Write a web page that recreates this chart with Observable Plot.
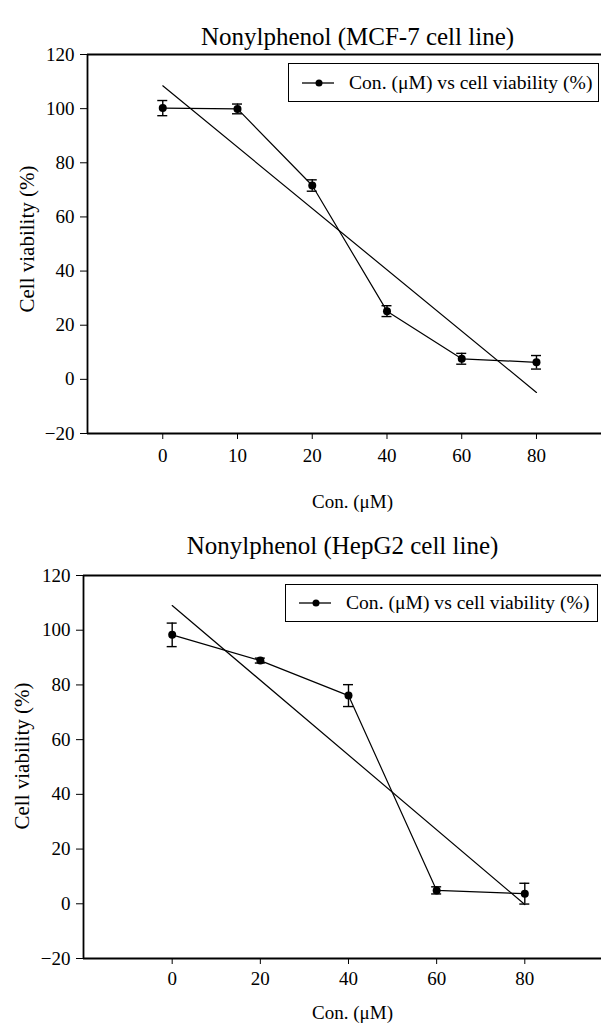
<!DOCTYPE html>
<html>
<head>
<meta charset="utf-8">
<script src="https://cdn.jsdelivr.net/npm/d3@7"></script>
<script src="https://cdn.jsdelivr.net/npm/@observablehq/plot@0.6"></script>
<style>
  html, body { margin: 0; padding: 0; background: #fff; }
  #wrap { position: relative; width: 601px; height: 1023px; overflow: hidden; font-family: "Liberation Serif", "Times New Roman", serif; }
  #wrap svg { display: block; overflow: visible; }
  .legend { position: absolute; box-sizing: border-box; border: 1.5px solid #000; background: #fff;
            display: flex; align-items: center; font-size: 19.6px; color: #000; white-space: nowrap; }
  .legend svg { display: block; margin-right: 15px; }
</style>
</head>
<body>
<div id="wrap"></div>
<script>
// ---- data ----
const mcfTitle = "Nonylphenol (MCF-7 cell line)";
const mcfConc = ["0", "10", "20", "40", "60", "80"];
const mcfViability = [100.2, 99.9, 71.6, 25.2, 7.6, 6.3];
const mcfError = [2.8, 1.8, 2.1, 2.0, 2.0, 2.5];

const hepTitle = "Nonylphenol (HepG2 cell line)";
const hepConc = ["0", "20", "40", "60", "80"];
const hepViability = [98.3, 88.9, 76.1, 4.9, 3.7];
const hepError = [4.3, 0.9, 4.0, 1.3, 3.8];

const yTicks = [-20, 0, 20, 40, 60, 80, 100, 120];
const xTitle = "Con. (\u03bcM)";
const yTitle = "Cell viability (%)";
const legendLabel = "Con. (\u03bcM) vs cell viability (%)";

const font = '"Liberation Serif", "Times New Roman", serif';

function panel(cfg) {
  const data = cfg.conc.map((c, i) => ({i, c, v: cfg.values[i], lo: cfg.values[i] - cfg.err[i], hi: cfg.values[i] + cfg.err[i]}));
  const xDomain = cfg.xDomain;
  return Plot.plot({
    width: 601,
    height: cfg.height,
    marginLeft: cfg.marginLeft,
    marginRight: 0,
    marginTop: cfg.marginTop,
    marginBottom: cfg.marginBottom,
    style: {fontFamily: font, fontSize: "19px", color: "#000", background: "#fff", overflow: "visible"},
    x: {domain: xDomain},
    y: {domain: [-20, 120]},
    marks: [
      Plot.axisY({ticks: yTicks, tickSize: 7, tickPadding: 6, label: null, fontSize: 19}),
      Plot.axisX({ticks: data.map(d => d.i), tickFormat: i => cfg.conc[i], tickSize: 6, tickPadding: cfg.xPad, label: null, fontSize: 19}),
      Plot.ruleY([120, -20], {strokeWidth: 1.8}),
      Plot.ruleX([xDomain[0]], {y1: -20, y2: 120, strokeWidth: 1.8}),
      Plot.linearRegressionY(data, {x: "i", y: "v", ci: 0, stroke: "#000", strokeWidth: 1.2}),
      Plot.line(data, {x: "i", y: "v", stroke: "#000", strokeWidth: 1.2}),
      Plot.ruleX(data, {x: "i", y1: "lo", y2: "hi", strokeWidth: 1.4}),
      Plot.ruleY(data, {y: "lo", x1: "i", x2: "i", insetLeft: -5, insetRight: -5, strokeWidth: 1.4}),
      Plot.ruleY(data, {y: "hi", x1: "i", x2: "i", insetLeft: -5, insetRight: -5, strokeWidth: 1.4}),
      Plot.dot(data, {x: "i", y: "v", r: 4, fill: "#000", stroke: null}),
      Plot.text([cfg.title], {text: d => d, frameAnchor: "top", dx: cfg.titleDx, dy: cfg.titleDy, fontSize: 25, lineAnchor: "middle"}),
      Plot.text([xTitle], {text: d => d, frameAnchor: "bottom", dx: cfg.xTitleDx, dy: cfg.xTitleDy, fontSize: 19, lineAnchor: "middle"}),
      Plot.text([yTitle], {text: d => d, frameAnchor: "left", textAnchor: "middle", dx: cfg.yTitleDx, dy: cfg.yTitleDy, rotate: -90, fontSize: 21, lineAnchor: "middle"})
    ]
  });
}

function legend(left, top, width, height) {
  const div = document.createElement("div");
  div.className = "legend";
  Object.assign(div.style, {left: left + "px", top: top + "px", width: width + "px", height: height + "px", paddingLeft: "13px"});
  const ns = "http://www.w3.org/2000/svg";
  const s = document.createElementNS(ns, "svg");
  s.setAttribute("width", 32); s.setAttribute("height", 10);
  const l = document.createElementNS(ns, "line");
  l.setAttribute("x1", 0); l.setAttribute("x2", 32); l.setAttribute("y1", 5); l.setAttribute("y2", 5);
  l.setAttribute("stroke", "#000"); l.setAttribute("stroke-width", 1.3);
  const c = document.createElementNS(ns, "circle");
  c.setAttribute("cx", 17); c.setAttribute("cy", 5); c.setAttribute("r", 3.5); c.setAttribute("fill", "#000");
  s.appendChild(l); s.appendChild(c);
  div.appendChild(s);
  const t = document.createElement("span");
  t.textContent = legendLabel;
  div.appendChild(t);
  return div;
}

const wrap = document.getElementById("wrap");

wrap.appendChild(panel({
  title: mcfTitle, conc: mcfConc, values: mcfViability, err: mcfError,
  height: 511, marginLeft: 87, marginTop: 54, marginBottom: 78,
  xDomain: [-1.007, 5.87], xPad: 9,
  titleDx: 13, titleDy: -18, xTitleDx: 8, xTitleDy: 68, yTitleDx: -60, yTitleDy: -5
}));

wrap.appendChild(panel({
  title: hepTitle, conc: hepConc, values: hepViability, err: hepError,
  height: 512, marginLeft: 83, marginTop: 64, marginBottom: 65,
  xDomain: [-1.006, 4.87], xPad: 7,
  titleDx: 0, titleDy: -30, xTitleDx: 10, xTitleDy: 54, yTitleDx: -61, yTitleDy: -11
}));

wrap.appendChild(legend(288, 63, 311, 39));
wrap.appendChild(legend(285, 584, 313, 38));
</script>
</body>
</html>
